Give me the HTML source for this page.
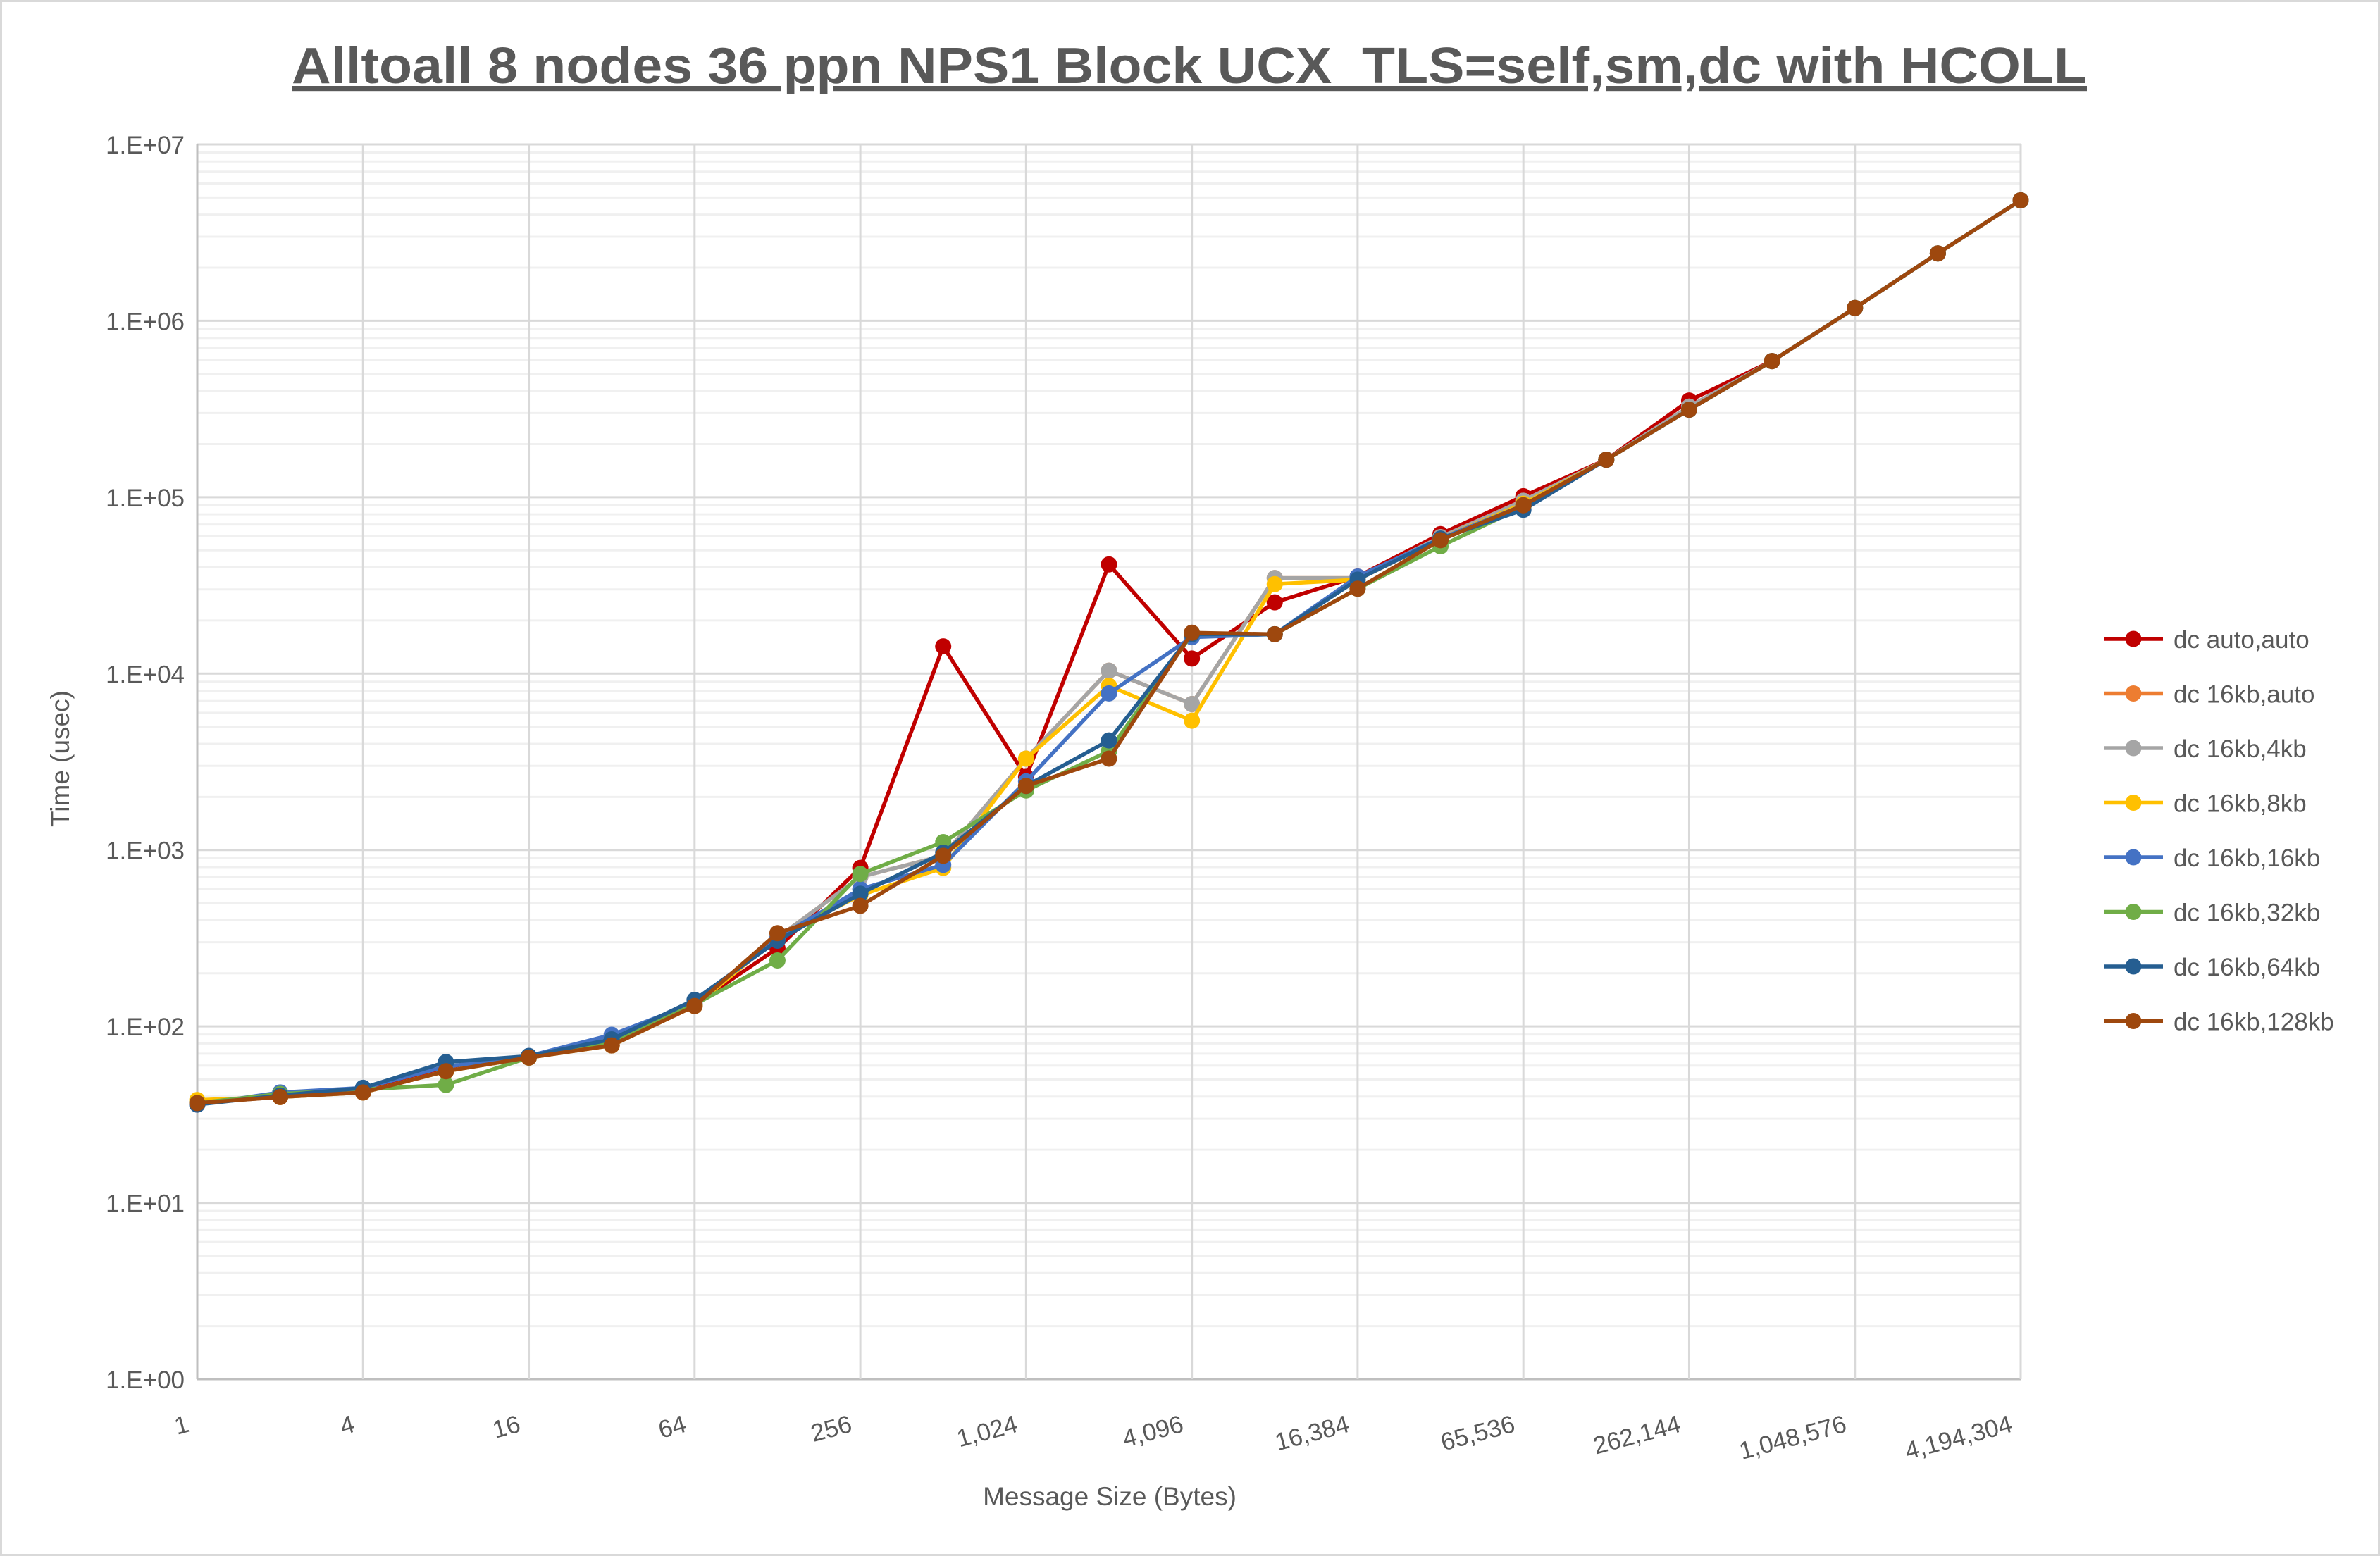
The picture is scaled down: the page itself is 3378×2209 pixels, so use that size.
<!DOCTYPE html>
<html><head><meta charset="utf-8"><style>
html,body{margin:0;padding:0;background:#fff}
svg{display:block;font-family:"Liberation Sans",Arial,sans-serif}
</style></head><body>
<svg id="s" width="3378" height="2209" viewBox="0 0 3378 2209" xmlns="http://www.w3.org/2000/svg">
<rect x="1.5" y="1.5" width="3375" height="2206" fill="#fff" stroke="#d9d9d9" stroke-width="3"/>
<g id="grid"></g>
<g id="series"></g>
<text x="1688" y="118" text-anchor="middle" font-size="72" font-weight="bold" fill="#595959" text-decoration="underline" textLength="2548" lengthAdjust="spacingAndGlyphs">Alltoall 8 nodes 36 ppn NPS1 Block UCX_TLS=self,sm,dc with HCOLL</text>
<text transform="translate(98,1077) rotate(-90)" text-anchor="middle" font-size="37" fill="#595959">Time (usec)</text>
<text x="1575" y="2137" text-anchor="middle" font-size="37" fill="#595959">Message Size (Bytes)</text>
<g id="legend"></g>
</svg>
<script>
const NS="http://www.w3.org/2000/svg",S=2.154;
const x0=280,x1=2868,y0=205,y1=1958,dec=(y1-y0)/7,dx=(x1-x0)/22;
function el(t,a,p){const e=document.createElementNS(NS,t);for(const k in a)e.setAttribute(k,a[k]);p.appendChild(e);return e;}
const g=document.getElementById('grid');
for(let d=0;d<7;d++){for(let m=2;m<=9;m++){const y=y1-(d+Math.log10(m))*dec;el('line',{x1:x0,x2:x1,y1:y,y2:y,stroke:'#f0f0f0','stroke-width':3},g);}}
for(let d=0;d<=7;d++){const y=y1-d*dec;el('line',{x1:x0,x2:x1,y1:y,y2:y,stroke:d==0?'#bfbfbf':'#d9d9d9','stroke-width':3},g);
 const t=el('text',{x:262,y:y+13,'text-anchor':'end','font-size':35,fill:'#595959'},g);t.textContent='1.E+0'+(d);}
const xl=['1','4','16','64','256','1,024','4,096','16,384','65,536','262,144','1,048,576','4,194,304'];
for(let i=0;i<=22;i+=2){const x=x0+i*dx;el('line',{x1:x,x2:x,y1:y0,y2:y1,stroke:i==0?'#bfbfbf':'#d9d9d9','stroke-width':3},g);
 const t=el('text',{transform:`translate(${x-10},${y1+74}) rotate(-15)`,'text-anchor':'end','font-size':35,fill:'#595959'},g);t.textContent=xl[i/2];}
el('line',{x1:x1,x2:x1,y1:y0,y2:y1,stroke:'#d9d9d9','stroke-width':3},g);
const base=[727,723,720,706,697,689,663,615,597,564,518,500,417,418,388,356,333,303,270,238,203,167,132];
function mk(over){const a=base.slice();for(const k in over)a[k]=over[k];return a;}
const ser=[
['dc auto,auto','#C00000',mk({1:722,3:704,5:687,6:662,7:625,8:572,9:426,10:512,11:372,12:434,13:397,14:380,15:352,16:327,18:264})],
['dc 16kb,auto','#ED7D31',mk({7:618,8:578,9:564,10:500,11:442,12:464,13:381,14:381,15:354,16:330,18:268})],
['dc 16kb,4kb','#A5A5A5',mk({7:618,8:578,9:564,10:500,11:442,12:464,13:381,14:381,15:354,16:330,18:268})],
['dc 16kb,8kb','#FFC000',mk({0:725,7:618,8:590,9:572,10:500,11:452,12:475,13:385,14:382,15:355,16:332})],
['dc 16kb,16kb','#4472C4',mk({0:728,1:720,2:717,3:703,4:696,5:682,6:661,7:618,8:586,9:570,10:515,11:457,12:420,13:418,14:380,15:355})],
['dc 16kb,32kb','#70AD47',mk({1:721,2:718,3:715,5:687,6:662,7:633,8:576,9:555,10:521,11:495,12:418,15:360,16:334})],
['dc 16kb,64kb','#255E91',mk({0:728,1:722,2:717,3:700,4:696,5:685,6:659,7:620,8:589,9:562,11:488,12:418,14:382,15:355,16:336})],
['dc 16kb,128kb','#9E480E',base]];
const sg=document.getElementById('series'),lg=document.getElementById('legend');
ser.forEach((s,k)=>{const pts=s[2].map((v,i)=>[x0+i*dx,v*S]);
 el('polyline',{points:pts.map(p=>p.join(',')).join(' '),fill:'none',stroke:s[1],'stroke-width':5.5,'stroke-linejoin':'round'},sg);
 pts.forEach(p=>el('circle',{cx:p[0],cy:p[1],r:11.5,fill:s[1]},sg));
 const y=907+77.5*k;el('line',{x1:2986,x2:3070,y1:y,y2:y,stroke:s[1],'stroke-width':5.5},lg);
 el('circle',{cx:3028,cy:y,r:11.5,fill:s[1]},lg);
 const t=el('text',{x:3085,y:y+13,'font-size':35,fill:'#595959'},lg);t.textContent=s[0];});
</script>
</body></html>
